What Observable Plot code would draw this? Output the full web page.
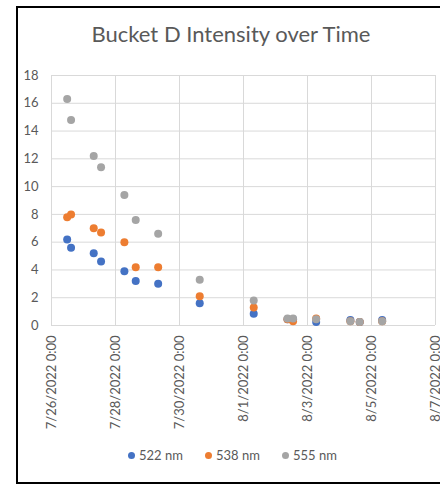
<!DOCTYPE html>
<html><head><meta charset="utf-8">
<script src="https://cdn.jsdelivr.net/npm/d3@7"></script>
<script src="https://cdn.jsdelivr.net/npm/@observablehq/plot@0.6"></script>
<style>
html,body{margin:0;padding:0;width:440px;height:487px;overflow:hidden;background:#fff;font-family:Lato,"Open Sans",sans-serif;}
#frame{position:absolute;left:16px;top:6px;width:470px;height:478px;border:2px solid #000;box-sizing:border-box;}
#title{position:absolute;left:0;top:21px;width:462px;text-align:center;font-size:22px;line-height:26px;color:#595959;}
#chart{position:absolute;left:0;top:60px;}
#legend{position:absolute;top:447px;left:0;width:440px;height:16px;font-size:13px;color:#595959;}
#legend span.item{position:absolute;top:0;line-height:16px;white-space:nowrap;}
#legend span.dot{display:inline-block;width:7px;height:7px;border-radius:50%;margin-right:4px;vertical-align:1px;}
</style></head>
<body>
<div id="frame"></div>
<div id="title">Bucket D Intensity over Time</div>
<div id="chart"></div>
<div id="legend"></div>
<script>
const times = [
  "2022-07-26T11:45Z","2022-07-26T14:40Z","2022-07-27T07:40Z","2022-07-27T13:10Z",
  "2022-07-28T06:40Z","2022-07-28T15:10Z","2022-07-29T08:00Z","2022-07-30T15:10Z",
  "2022-08-01T07:40Z","2022-08-02T09:00Z","2022-08-02T13:10Z","2022-08-03T06:30Z",
  "2022-08-04T08:10Z","2022-08-04T15:10Z","2022-08-05T08:00Z"
];
const s522 = [6.2, 5.6, 5.2, 4.6, 3.9, 3.2, 3.0, 1.6, 0.85, 0.45, 0.45, 0.25, 0.4, 0.25, 0.4];
const s538 = [7.8, 8.0, 7.0, 6.7, 6.0, 4.2, 4.2, 2.1, 1.3, 0.45, 0.3, 0.5, 0.3, 0.25, 0.3];
const s555 = [16.3, 14.8, 12.2, 11.4, 9.4, 7.6, 6.6, 3.3, 1.8, 0.5, 0.5, 0.45, 0.3, 0.25, 0.3];
const seriesNames = ["522 nm", "538 nm", "555 nm"];
const seriesColors = ["#4472C4", "#ED7D31", "#A5A5A5"];
const tickDateStrings = ["2022-07-26","2022-07-28","2022-07-30","2022-08-01","2022-08-03","2022-08-05","2022-08-07"];
const tickLabels = ["7/26/2022 0:00","7/28/2022 0:00","7/30/2022 0:00","8/1/2022 0:00","8/3/2022 0:00","8/5/2022 0:00","8/7/2022 0:00"];
const yTicks = [0,2,4,6,8,10,12,14,16,18];

const tickDates = tickDateStrings.map(s => new Date(s + "T00:00Z"));
const allSeries = [s522, s538, s555];
const data = allSeries.map((vals, i) => vals.map((v, j) => ({t: new Date(times[j]), v, s: seriesNames[i]})));
const fmt = d => tickLabels[tickDates.findIndex(t => +t === +d)];

const plot = Plot.plot({
  width: 440, height: 380,
  marginLeft: 51, marginRight: 5, marginTop: 15, marginBottom: 115,
  style: {fontFamily: "Lato, sans-serif", fontSize: "13px", color: "#595959", background: "transparent", overflow: "visible"},
  x: {type: "utc", domain: [tickDates[0], tickDates[tickDates.length - 1]]},
  y: {domain: [0, 18]},
  marks: [
    Plot.gridY(yTicks, {stroke: "#d9d9d9", strokeOpacity: 1}),
    Plot.gridX(tickDates, {stroke: "#d9d9d9", strokeOpacity: 1}),
    Plot.axisY(yTicks, {tickSize: 0, tickPadding: 13, label: null, fill: "#595959"}),
    Plot.axisX(tickDates, {tickSize: 0, tickPadding: 10, tickRotate: -90, tickFormat: fmt, label: null, fill: "#595959"}),
    ...data.map((d, i) => Plot.dot(d, {x: "t", y: "v", r: 4, fill: seriesColors[i], stroke: null}))
  ]
});
document.getElementById("chart").appendChild(plot);

const legend = document.getElementById("legend");
const legendX = [128, 205, 282];
seriesNames.forEach((n, i) => {
  const item = document.createElement("span");
  item.className = "item";
  item.style.left = legendX[i] + "px";
  item.innerHTML = `<span class="dot" style="background:${seriesColors[i]}"></span>${n}`;
  legend.appendChild(item);
});
</script>
</body></html>
